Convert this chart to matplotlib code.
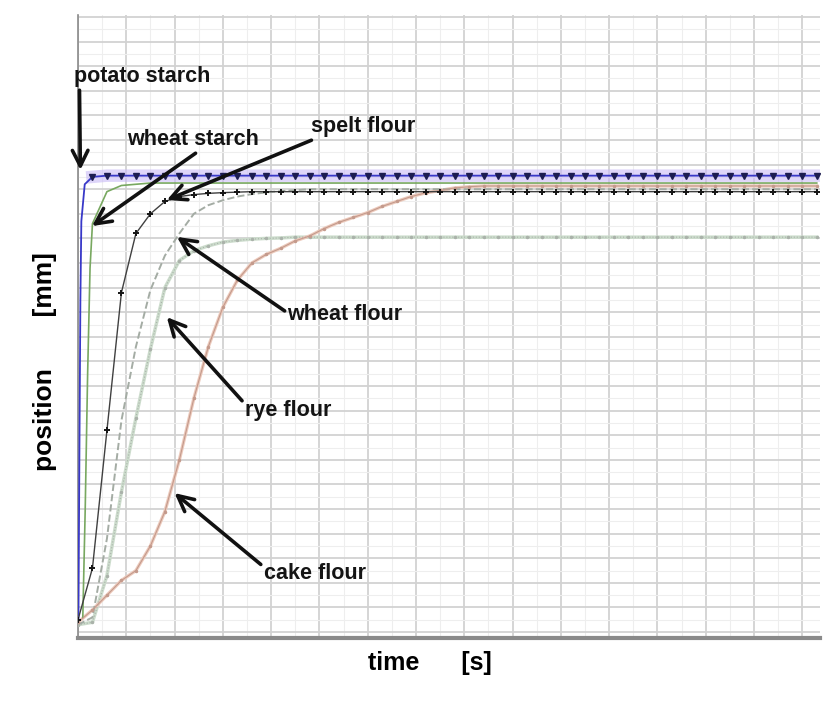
import numpy as np
import matplotlib
matplotlib.use("Agg")
import matplotlib.pyplot as plt
from matplotlib.ticker import MultipleLocator

plt.rcParams['font.family'] = ['Liberation Sans', 'DejaVu Sans']

## sample times [s] (shared grid, 0.3 s step)
t = [0.0, 0.3, 0.6, 0.9, 1.2, 1.5, 1.8, 2.1, 2.4, 2.7, 3.0, 3.3, 3.6,
     3.9, 4.2, 4.5, 4.8, 5.1, 5.4, 5.7, 6.0, 6.3, 6.6, 6.9, 7.2, 7.5,
     7.8, 8.1, 8.4, 8.7, 9.0, 9.3, 9.6, 9.9, 10.2, 10.5, 10.8, 11.1, 11.4,
     11.7, 12.0, 12.3, 12.6, 12.9, 13.2, 13.5, 13.8, 14.1, 14.4, 14.7,
     15.0, 15.3]

## positions [mm, arbitrary units]
potato_early_t = [0.01, 0.03, 0.05, 0.07, 0.14]
potato_early = [0.5, 7.4, 13.5, 16.7, 18.2]
potato = [18.5, 18.55, 18.55, 18.55, 18.55, 18.55, 18.55, 18.55, 18.55,
          18.55, 18.55, 18.55, 18.55, 18.55, 18.55, 18.55, 18.55, 18.55,
          18.55, 18.55, 18.55, 18.55, 18.55, 18.55, 18.55, 18.55, 18.55,
          18.55, 18.55, 18.55, 18.55, 18.55, 18.55, 18.55, 18.55, 18.55,
          18.55, 18.55, 18.55, 18.55, 18.55, 18.55, 18.55, 18.55, 18.55,
          18.55, 18.55, 18.55, 18.55, 18.55, 18.55]

wstarch_early_t = [0.1, 0.15, 0.2, 0.25]
wstarch_early = [0.6, 5.0, 10.5, 14.8]
wstarch = [16.6, 17.9, 18.15, 18.2, 18.25, 18.25, 18.25, 18.25, 18.25,
           18.25, 18.25, 18.25, 18.25, 18.25, 18.25, 18.25, 18.25, 18.25,
           18.25, 18.25, 18.25, 18.25, 18.25, 18.25, 18.25, 18.25, 18.25,
           18.25, 18.25, 18.25, 18.25, 18.25, 18.25, 18.25, 18.25, 18.25,
           18.25, 18.25, 18.25, 18.25, 18.25, 18.25, 18.25, 18.25, 18.25,
           18.25, 18.25, 18.25, 18.25, 18.25, 18.25]

spelt = [0.5, 2.6, 8.2, 13.8, 16.2, 17.0, 17.5, 17.7, 17.78, 17.83, 17.86,
         17.88, 17.9, 17.9, 17.9, 17.9, 17.9, 17.9, 17.9, 17.9, 17.9, 17.9,
         17.9, 17.9, 17.9, 17.9, 17.9, 17.9, 17.9, 17.9, 17.9, 17.9, 17.9,
         17.9, 17.9, 17.9, 17.9, 17.9, 17.9, 17.9, 17.9, 17.9, 17.9, 17.9,
         17.9, 17.9, 17.9, 17.9, 17.9, 17.9, 17.9, 17.9]

wflour = [0.3, 0.6, 3.8, 8.6, 11.6, 13.9, 15.3, 16.2, 17.0, 17.35, 17.55,
          17.7, 17.8, 17.87, 17.92, 17.96, 18.0, 18.0, 18.0, 18.0, 18.0,
          18.0, 18.0, 18.0, 18.0, 18.0, 18.0, 18.0, 18.0, 18.0, 18.0, 18.0,
          18.0, 18.0, 18.0, 18.0, 18.0, 18.0, 18.0, 18.0, 18.0, 18.0, 18.0,
          18.0, 18.0, 18.0, 18.0, 18.0, 18.0, 18.0, 18.0, 18.0]

rye = [0.3, 0.4, 2.3, 5.7, 8.7, 11.5, 14.0, 15.1, 15.5, 15.7, 15.85, 15.92,
       15.97, 16.0, 16.02, 16.05, 16.05, 16.05, 16.05, 16.05, 16.05, 16.05,
       16.05, 16.05, 16.05, 16.05, 16.05, 16.05, 16.05, 16.05, 16.05, 16.05,
       16.05, 16.05, 16.05, 16.05, 16.05, 16.05, 16.05, 16.05, 16.05, 16.05,
       16.05, 16.05, 16.05, 16.05, 16.05, 16.05, 16.05, 16.05, 16.05, 16.05]

cake = [0.4, 0.9, 1.5, 2.1, 2.5, 3.5, 4.9, 7.0, 9.5, 11.6, 13.2, 14.3, 15.0,
        15.35, 15.6, 15.9, 16.1, 16.4, 16.65, 16.85, 17.05, 17.3, 17.5, 17.7,
        17.85, 17.95, 18.05, 18.1, 18.13, 18.13, 18.13, 18.13, 18.13, 18.13,
        18.13, 18.13, 18.13, 18.13, 18.13, 18.13, 18.13, 18.13, 18.13, 18.13,
        18.13, 18.13, 18.13, 18.13, 18.13, 18.13, 18.13, 18.13]

## labels: (text, text position, arrow tip, arrow start on text box)
labels = ['potato starch', 'wheat starch', 'spelt flour',
          'wheat flour', 'rye flour', 'cake flour']
label_xy = [(1.33, 22.56), (2.38, 20.0), (5.9, 20.53),
            (5.53, 12.89), (4.35, 9.02), (4.9, 2.4)]
tip_xy = [(0.05, 18.78), (0.29, 16.5), (1.84, 17.56),
          (2.05, 16.06), (1.84, 12.8), (2.0, 5.65)]
rel = [(0.04, 0.0), (0.55, 0.0), (0.12, 0.1),
       (0.0, 0.6), (0.0, 0.8), (0.0, 0.8)]

fig = plt.figure(figsize=(8.33, 7.06), dpi=100)
ax = fig.add_axes([0.0936, 0.0963, 0.8904, 0.8825])

t_late = t[1:]

# potato starch: lavender band + blue line + dark markers
ax.plot(t_late, potato, color='#c8baf6', lw=9, alpha=0.6, zorder=2)
ax.plot(potato_early_t + t_late, potato_early + potato, color='#3838c8',
        lw=1.3, zorder=4)
ax.plot(t_late, potato, ls='none', marker='v', ms=5, color='#1c1c50',
        zorder=5)

# wheat starch
ax.plot(wstarch_early_t + t_late, wstarch_early + wstarch,
        color='#78a860', lw=1.2, zorder=3)

# spelt flour
ax.plot(t, spelt, color='#404040', lw=1.0, marker='+', ms=5, mew=1.4,
        mec='#151515', zorder=4)

# wheat flour
ax.plot(t, wflour, color='#a4aca4', lw=1.4, ls='--', zorder=3)

# rye flour
ax.plot(t, rye, color='#ccdccc', lw=2.5, zorder=2)
ax.plot(t, rye, color='#aab2aa', lw=0.8, ls=':', marker='.', ms=3,
        zorder=3)

# cake flour
ax.plot(t, cake, color='#eccabc', lw=2.4, zorder=2)
ax.plot(t, cake, color='#c49a8c', lw=0.8, marker='.', ms=3, zorder=3)

for lab, xy, tip, rp in zip(labels, label_xy, tip_xy, rel):
    ax.annotate(lab, xy=tip, xytext=xy, ha='center', va='center',
                fontsize=15.5, fontweight='bold', color='#141414',
                arrowprops=dict(arrowstyle='->', lw=2.6, color='#111111',
                                mutation_scale=28, shrinkA=0, shrinkB=0,
                                relpos=rp), zorder=6)

ax.set_xlim(0, 15.36)
ax.set_ylim(-0.24, 25.08)
ax.xaxis.set_major_locator(MultipleLocator(1))
ax.xaxis.set_minor_locator(MultipleLocator(0.5))
ax.yaxis.set_major_locator(MultipleLocator(1))
ax.yaxis.set_minor_locator(MultipleLocator(0.5))
ax.grid(which='major', color='#d2d2d2', lw=1.3)
ax.grid(which='minor', color='#eeeeee', lw=0.8)
ax.set_axisbelow(True)
ax.tick_params(which='both', length=0, labelbottom=False, labelleft=False)
for s in ['top', 'right']:
    ax.spines[s].set_visible(False)
ax.spines['left'].set_color('#8a8a8a')
ax.spines['left'].set_linewidth(1.2)
ax.spines['bottom'].set_color('#8a8a8a')
ax.spines['bottom'].set_linewidth(3)

fig.text(430 / 833, 1 - 663 / 706, 'time      [s]', ha='center', va='center',
         fontsize=18, fontweight='bold')
fig.text(45 / 833, 1 - 362 / 706, 'position       [mm]', ha='center',
         va='center', rotation=90, fontsize=19, fontweight='bold')

fig.savefig('out.png', dpi=100)
